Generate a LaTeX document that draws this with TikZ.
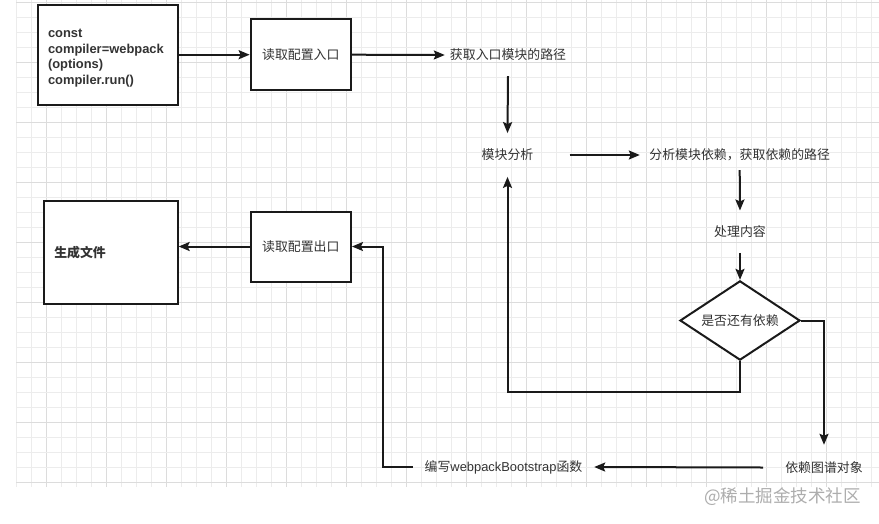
\documentclass[tikz,border=0pt]{standalone}
\usepackage{fontspec}
\setmainfont{Liberation Sans}
\newfontfamily\cjk{Noto Sans CJK SC}
\usetikzlibrary{arrows.meta,shapes.geometric,calc}
\definecolor{ink}{HTML}{1A1A1A}
\definecolor{txt}{HTML}{333333}
\definecolor{gridminor}{HTML}{ECECEC}
\definecolor{gridmajor}{HTML}{DCDCDC}
\begin{document}
\begin{tikzpicture}[x=1pt,y=-1pt,
  every node/.style={font=\fontsize{12.9}{15.8}\selectfont, text=txt},
  box/.style={draw=ink, line width=2pt, fill=white, inner sep=0pt},
  lbl/.style={inner sep=0pt},
  arr/.style={draw=ink, line width=2pt, -{Stealth[length=11pt,width=9pt,inset=2pt]}}]
\useasboundingbox (0,0) rectangle (879,523);
\fill[white] (0,0) rectangle (879,523);
% grid
\foreach \k in {0,...,57} {
  \pgfmathtruncatemacro{\m}{mod(\k-2,4)}
  \ifnum\m=0
    \draw[gridmajor, line width=0.9pt] ({16.7+15*\k},0) -- ({16.7+15*\k},487);
  \else
    \draw[gridminor, line width=0.9pt] ({16.7+15*\k},0) -- ({16.7+15*\k},487);
  \fi
}
\foreach \k in {0,...,32} {
  \pgfmathtruncatemacro{\m}{mod(\k,4)}
  \ifnum\m=0
    \draw[gridmajor, line width=0.9pt] (16,{2.3+15*\k}) -- (879,{2.3+15*\k});
  \else
    \draw[gridminor, line width=0.9pt] (16,{2.3+15*\k}) -- (879,{2.3+15*\k});
  \fi
}
% nodes
\node[box, minimum width=140.6pt, minimum height=100pt, text width=120pt, inner xsep=10.3pt, align=left,
      font=\fontsize{12.9}{15.9}\selectfont\bfseries] (b1) at (108,55)
  {\raisebox{-2.8pt}[\height][\depth]{\begin{tabular}{@{}l@{}}const\\compiler=webpack\\(options)\\compiler.run()\end{tabular}}};
\node[box, minimum width=100.3pt, minimum height=70.7pt] (b2) at (300.8,54.7) {\cjk 读取配置入口};
\node[lbl, minimum width=126pt, minimum height=42pt] (t3) at (508,55) {\cjk 获取入口模块的路径};
\node[lbl, minimum width=124pt, minimum height=43.4pt] (t4) at (507.5,155) {\cjk 模块分析};
\node[lbl, minimum width=199.4pt, minimum height=30pt] (t5) at (739.7,155) {\cjk 分析模块依赖，获取依赖的路径};
\node[lbl, minimum width=80pt, minimum height=42pt] (t6) at (740,231.7) {\cjk 处理内容};
\node[draw=ink, line width=2pt, fill=white, diamond, aspect=1.5, inner sep=0pt,
      minimum width=120pt, minimum height=79.3pt] (d) at (740,320.5) {\cjk 是否还有依赖};
\node[lbl, minimum width=121.4pt, minimum height=45pt] (t7) at (824,467.5) {\cjk 依赖图谱对象};
\node[lbl, minimum width=181pt, minimum height=40pt] (t8) at (503.5,467) {{\cjk 编写}webpackBootstrap{\cjk 函数}};
\node[box, minimum width=100.3pt, minimum height=70pt] (b3) at (300.8,246.5) {\cjk 读取配置出口};
\node[box, minimum width=133.7pt, minimum height=103.3pt, text width=113.1pt, inner xsep=10.3pt, align=left,
      font=\fontsize{12.9}{15.8}\selectfont\bfseries] (b4) at (110.8,252.3) {\cjk 生成文件};
\node[lbl, text=black!32, font=\fontsize{17.5}{20}\selectfont] (wm) at (782.5,497) {\cjk @稀土掘金技术社区};
\coordinate (c1) at (382.7,246.5);
% connectors
\draw[arr] (b1.east |- b2.west) -- (b2.west);
\draw[arr] (b2.east) -- (t3.west);
\draw[arr] (t3.south) -- (t4.north);
\draw[arr] (t4.east) -- (t5.west);
\draw[arr] (t5.south) -- (t6.north);
\draw[arr] (t6.south) -- (d.north);
\draw[arr] (d.south) -- ++(0,30.5) -| (t4.south);
\draw[arr] (d.east) -| (t7.north);
\draw[arr] (t7.west) -- (t8.east);
\draw[arr] (t8.west) -| (c1) -- (b3.east);
\draw[arr] (b3.west) -- (b3.west -| b4.east);
\end{tikzpicture}
\end{document}
